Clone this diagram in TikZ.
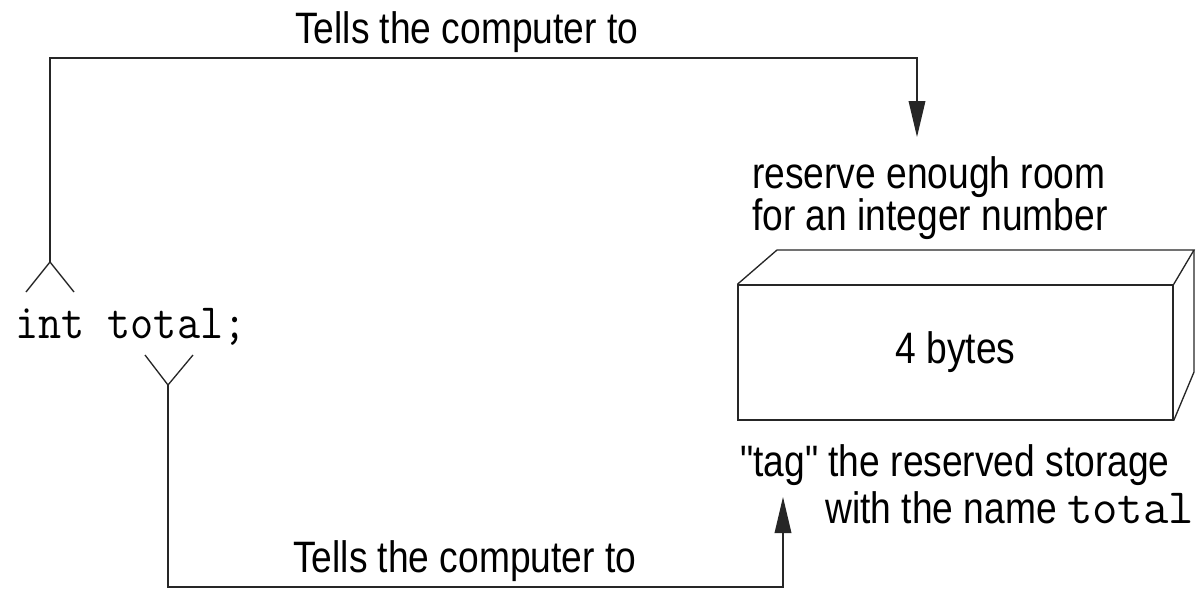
\documentclass[tikz,border=0pt]{standalone}
\usepackage{fontspec}
\usepackage{graphicx}
\usetikzlibrary{arrows.meta}
\newfontfamily\labfont{Liberation Sans}
\newcommand{\lab}[1]{\scalebox{0.845}[1]{\labfont\fontsize{33}{40}\selectfont #1}}
\newcommand{\code}[1]{{\ttfamily\fontsize{37}{44}\selectfont #1}}
\newcommand{\codelab}[2][0.91]{\scalebox{#1}[1]{\code{#2}}}

\tikzset{
  wire/.style={line width=1pt, draw=black!85},
  arrowwire/.style={wire, -{Triangle[length=27pt,width=12.5pt]}},
  txt/.style={inner sep=0pt, anchor=base west},
  boxline/.style={line width=1pt, draw=black!85},
}

\begin{document}
\begin{tikzpicture}[x=0.75pt, y=-0.75pt]
\useasboundingbox (0,0) rectangle (1196,589);

% declaration and its two forks
\node[txt] (intdecl) at (15,338) {\codelab{int total;}};
\coordinate (intfork) at (50,262);
\coordinate (totalfork) at (168,385);
\draw[wire] (26,292) -- (intfork) -- (74,292);
\draw[wire] (145,355) -- (totalfork) -- (193,355);

% labels
\node[txt] (toplbl) at (295,43) {\lab{Tells the computer to}};
\node[txt] (botlbl) at (293,572) {\lab{Tells the computer to}};
\node[txt] (reserve1) at (752,188) {\lab{reserve enough room}};
\node[txt] (reserve2) at (752,230) {\lab{for an integer number}};
\node[txt] (tag1) at (740,476) {\lab{"tag" the reserved storage}};
\node[txt] (tag2) at (825,523) {\lab{with the name\ }\codelab[1.0]{total}};

% storage box
\node[boxline, draw, minimum width=326.25pt, minimum height=101.25pt, inner sep=0pt]
  (box) at (955.5,352.5) {\lab{4 bytes}};
\draw[boxline] (box.north west) -- (777,250) -- (1194,250) -- (box.north east);
\draw[boxline] (1194,250) -- (1194,372) -- (box.south east);

% connectors
\coordinate (topturn) at (50,58);
\coordinate (reservein) at (917,137);
\draw[arrowwire] (intfork) -- (topturn) -| (reservein);

\coordinate (botturn) at (168,587);
\coordinate (tagin) at (783,497);
\draw[arrowwire] (totalfork) -- (botturn) -| (tagin);
\end{tikzpicture}
\end{document}
